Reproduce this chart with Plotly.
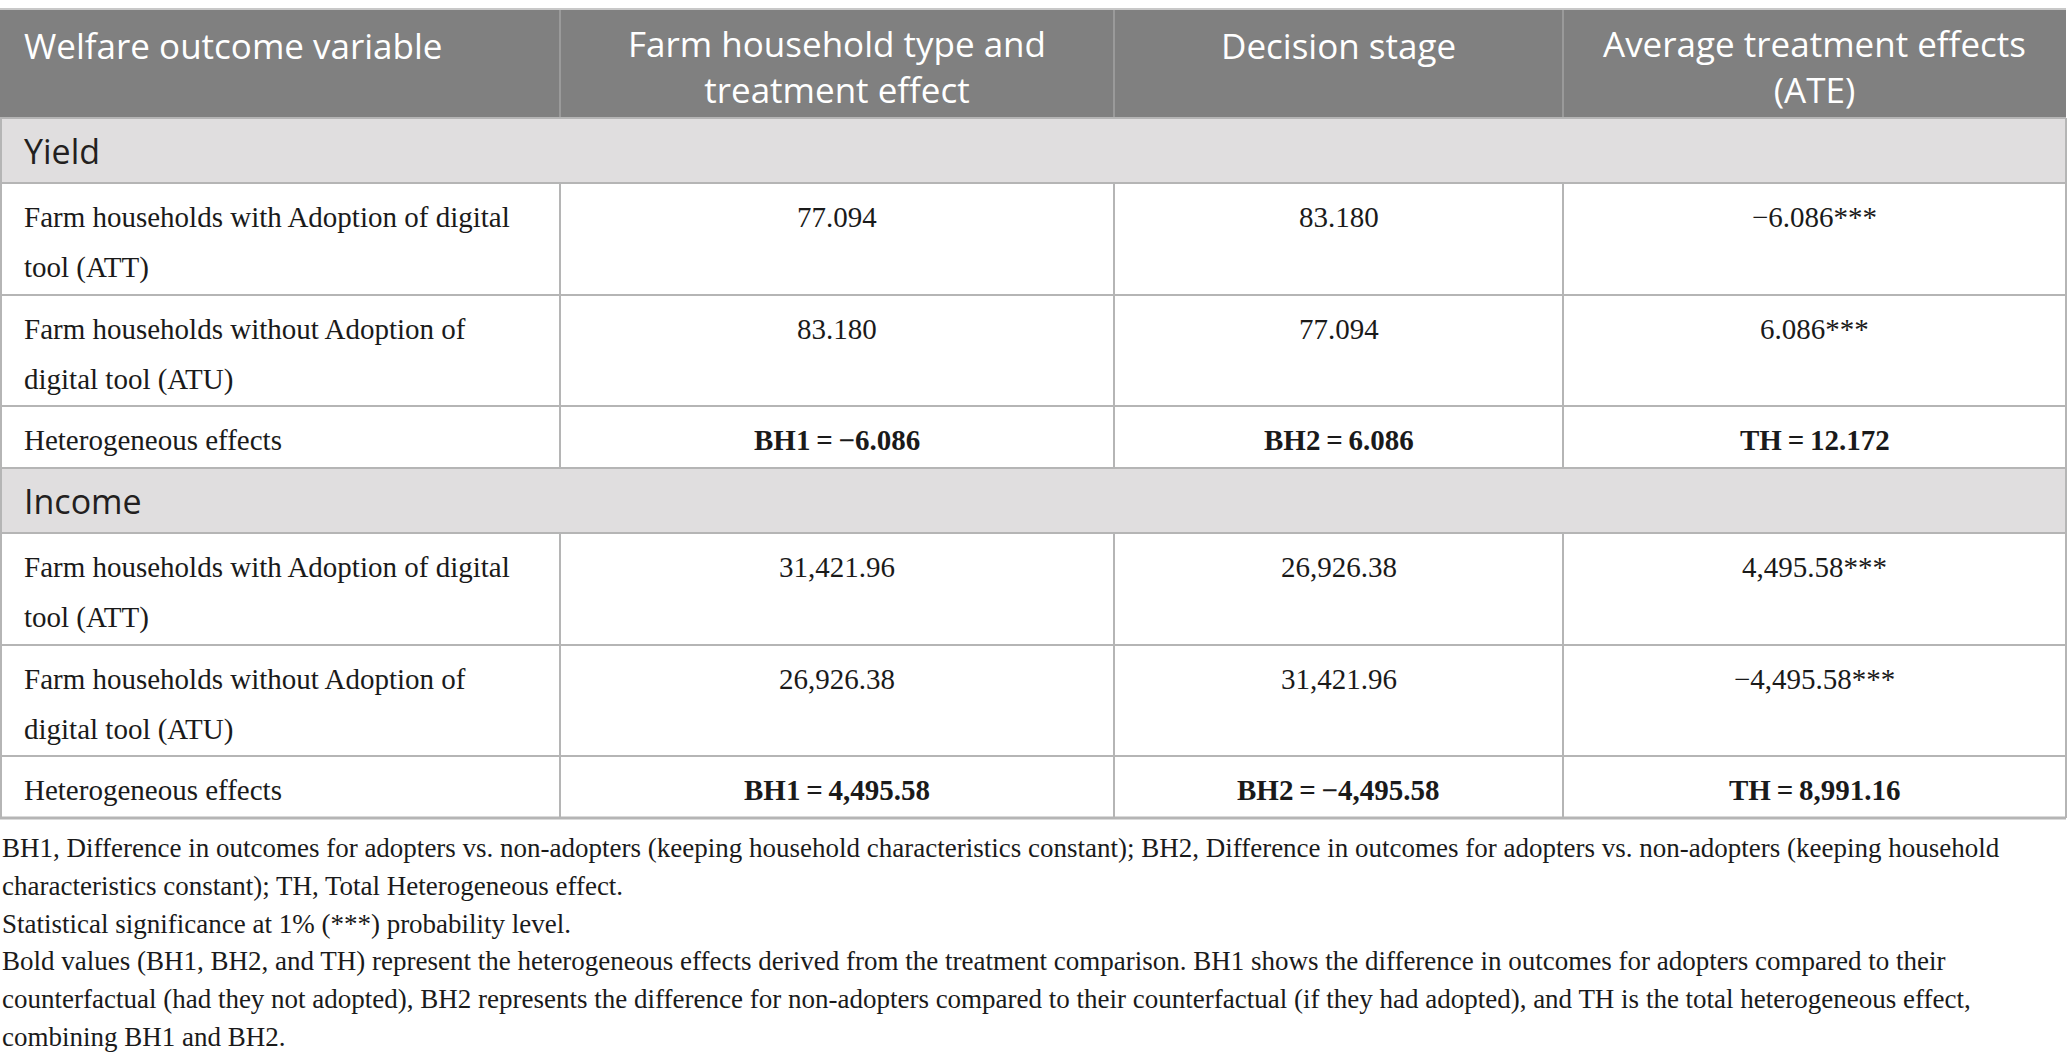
import plotly.graph_objects as go

# table content
header = [
    ["Welfare outcome variable"],
    ["Farm household type and", "treatment effect"],
    ["Decision stage"],
    ["Average treatment effects", "(ATE)"],
]
sections = ["Yield", "Income"]
row_labels = [
    ["Farm households with Adoption of digital", "tool (ATT)"],
    ["Farm households without Adoption of", "digital tool (ATU)"],
    ["Heterogeneous effects"],
]
yield_household = ["77.094", "83.180", "BH1\u2009=\u2009\u22126.086"]
yield_decision = ["83.180", "77.094", "BH2\u2009=\u20096.086"]
yield_ate = ["\u22126.086***", "6.086***", "TH\u2009=\u200912.172"]
income_household = ["31,421.96", "26,926.38", "BH1\u2009=\u20094,495.58"]
income_decision = ["26,926.38", "31,421.96", "BH2\u2009=\u2009\u22124,495.58"]
income_ate = ["4,495.58***", "\u22124,495.58***", "TH\u2009=\u20098,991.16"]
bold_rows = [False, False, True]
footnotes = [
    "BH1, Difference in outcomes for adopters vs. non-adopters (keeping household characteristics constant); BH2, Difference in outcomes for adopters vs. non-adopters (keeping household",
    "characteristics constant); TH, Total Heterogeneous effect.",
    "Statistical significance at 1% (***) probability level.",
    "Bold values (BH1, BH2, and TH) represent the heterogeneous effects derived from the treatment comparison. BH1 shows the difference in outcomes for adopters compared to their",
    "counterfactual (had they not adopted), BH2 represents the difference for non-adopters compared to their counterfactual (if they had adopted), and TH is the total heterogeneous effect,",
    "combining BH1 and BH2.",
]

# geometry (pixels)
W, H = 2067, 1062
COL_EDGES = [0, 560, 1114, 1563, 2066]
TOP = 9
HEADER_H = 109
SECTION_H = 65
ROW_H = [112, 111, 62]
LINE_GAP = 50
FIRST_LINE = 34

HEADER_BG = "#808080"
SECTION_BG = "#e0dedf"
GRID = "#b5b5b5"
SANS = "Open Sans"
SERIF = "Liberation Serif"

fig = go.Figure()
shapes = []
annotations = []


def text(x, y, s, size, color, family, anchor="center"):
    annotations.append(dict(
        x=x, y=y, xref="x", yref="y", text=s, showarrow=False,
        xanchor=anchor, yanchor="middle", align=anchor if anchor != "center" else "center",
        font=dict(size=size, color=color, family=family),
    ))


def hline(y, color=GRID, width=2):
    shapes.append(dict(type="line", xref="x", yref="y", x0=0, x1=COL_EDGES[-1], y0=y, y1=y,
                       line=dict(color=color, width=width)))


def vline(x, y0, y1, color=GRID, width=2):
    shapes.append(dict(type="line", xref="x", yref="y", x0=x, x1=x, y0=y0, y1=y1,
                       line=dict(color=color, width=width)))


def col_center(i):
    return (COL_EDGES[i] + COL_EDGES[i + 1]) / 2


# header
y = TOP
shapes.append(dict(type="rect", xref="x", yref="y", x0=0, x1=COL_EDGES[-1], y0=y, y1=y + HEADER_H,
                   fillcolor=HEADER_BG, line=dict(width=0), layer="below"))
for i, lines in enumerate(header):
    ty = y + 36 + (len(lines) - 1) * 43 / 2
    s = "<br>".join(lines)
    if i == 0:
        text(22, ty, s, 35, "white", SANS, "left")
    else:
        text(col_center(i), ty, s, 35, "white", SANS)
for x in COL_EDGES[1:-1]:
    vline(x, y, y + HEADER_H, color="#9a9a9a")
hline(y, color="#c8c8c8")
y += HEADER_H

blocks = [
    (yield_household, yield_decision, yield_ate),
    (income_household, income_decision, income_ate),
]
for name, cols in zip(sections, blocks):
    shapes.append(dict(type="rect", xref="x", yref="y", x0=0, x1=COL_EDGES[-1], y0=y, y1=y + SECTION_H,
                       fillcolor=SECTION_BG, line=dict(width=0), layer="below"))
    hline(y)
    text(22, y + SECTION_H / 2, name, 34, "#231f20", SANS, "left")
    vline(COL_EDGES[0] + 1, y, y + SECTION_H)
    vline(COL_EDGES[-1], y, y + SECTION_H)
    y += SECTION_H
    for r, lines in enumerate(row_labels):
        hline(y)
        for k, s in enumerate(lines):
            text(22, y + FIRST_LINE + k * LINE_GAP, s, 29, "#1a1a1a", SERIF, "left")
        for c, values in enumerate(cols):
            v = values[r]
            if bold_rows[r]:
                v = "<b>" + v + "</b>"
            text(col_center(c + 1), y + FIRST_LINE, v, 29, "#1a1a1a", SERIF)
        for i, x in enumerate(COL_EDGES):
            vline(x + 1 if i == 0 else x, y, y + ROW_H[r])
        y += ROW_H[r]
hline(y, width=3)

# footnotes
fy = 848
for s in footnotes:
    text(0, fy, s, 27, "#1a1a1a", SERIF, "left")
    fy += 37.8

fig.update_layout(
    width=W, height=H,
    margin=dict(l=0, r=0, t=0, b=0),
    paper_bgcolor="white", plot_bgcolor="white",
    xaxis=dict(range=[0, W], visible=False, fixedrange=True),
    yaxis=dict(range=[H, 0], visible=False, fixedrange=True),
    shapes=shapes, annotations=annotations,
    showlegend=False,
)
fig.write_html(
    "out.html",
    config={"displayModeBar": False},
    post_script="document.body.style.margin='0';document.body.style.overflow='hidden';",
)
